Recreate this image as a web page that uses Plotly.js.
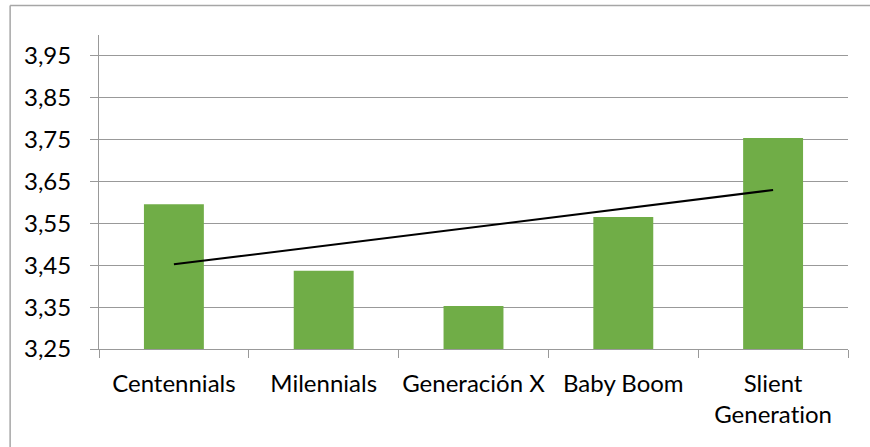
<!DOCTYPE html>
<html>
<head>
<meta charset="utf-8">
<script src="https://cdn.plot.ly/plotly-3.0.1.min.js"></script>
<style>
html,body{margin:0;padding:0;background:#fff;}
#chart{width:870px;height:447px;}
#chart text{font-variant-ligatures:none;font-feature-settings:"liga" 0;}
</style>
</head>
<body>
<div id="chart"></div>
<script>
var categories = ["Centennials", "Milennials", "Generación X", "Baby Boom", "Slient<br>Generation"];
var values = [3.596, 3.437, 3.353, 3.565, 3.754];
var yTickVals = [3.25, 3.35, 3.45, 3.55, 3.65, 3.75, 3.85, 3.95];
var yTickText = ["3,25", "3,35", "3,45", "3,55", "3,65", "3,75", "3,85", "3,95"];

// linear trendline (least squares over category index)
var n = values.length, sx = 0, sy = 0, sxy = 0, sxx = 0;
for (var i = 0; i < n; i++) { var xi = i + 1; sx += xi; sy += values[i]; sxy += xi * values[i]; sxx += xi * xi; }
var slope = (n * sxy - sx * sy) / (n * sxx - sx * sx);
var intercept = (sy - slope * sx) / n;
var trend = [intercept + slope * 1, intercept + slope * n];

var W = 870, H = 447, L = 98.5, R = 21.5, T = 35, B = 97.5;
var pw = W - L - R, ph = H - T - B;
function px(x) { return (x - L) / pw; }
function py(y) { return (H - B - y) / ph; }

var data = [
  {type: "bar", x: categories, y: values, marker: {color: "#70AD47"}, width: 0.4, hoverinfo: "x+y"},
  {type: "scatter", mode: "lines", x: [categories[0], categories[n - 1]], y: trend,
   line: {color: "#000000", width: 2}, hoverinfo: "skip"}
];

var font = {family: "Lato, 'Open Sans', sans-serif", size: 24, color: "#000000"};

var layout = {
  width: W, height: H,
  margin: {l: L, r: R, t: T, b: B, pad: 0},
  paper_bgcolor: "#ffffff", plot_bgcolor: "#ffffff",
  showlegend: false,
  font: font,
  xaxis: {
    type: "category",
    tickson: "boundaries",
    tickangle: 0,
    ticks: "outside", ticklen: 8, tickcolor: "#999999", tickwidth: 1,
    showline: true, linecolor: "#999999", linewidth: 1,
    showgrid: false, zeroline: false,
    tickfont: font,
    ticklabelstandoff: 13,
    fixedrange: true
  },
  yaxis: {
    range: [3.25, 4.0],
    tickvals: yTickVals, ticktext: yTickText,
    ticks: "outside", ticklen: 8, tickcolor: "#999999", tickwidth: 1,
    showline: true, linecolor: "#999999", linewidth: 1,
    showgrid: true, gridcolor: "#999999", gridwidth: 1,
    zeroline: false,
    tickfont: font,
    ticklabelstandoff: 14,
    fixedrange: true
  },
  shapes: [
    {type: "line", xref: "paper", yref: "paper", x0: px(9.5), x1: px(9.5), y0: py(5.5), y1: py(460),
     line: {color: "#a6a6a6", width: 1.5}},
    {type: "line", xref: "paper", yref: "paper", x0: px(9.5), x1: px(880), y0: py(5.5), y1: py(5.5),
     line: {color: "#a6a6a6", width: 1.5}}
  ]
};

Plotly.newPlot("chart", data, layout, {displayModeBar: false, staticPlot: true});
</script>
</body>
</html>
